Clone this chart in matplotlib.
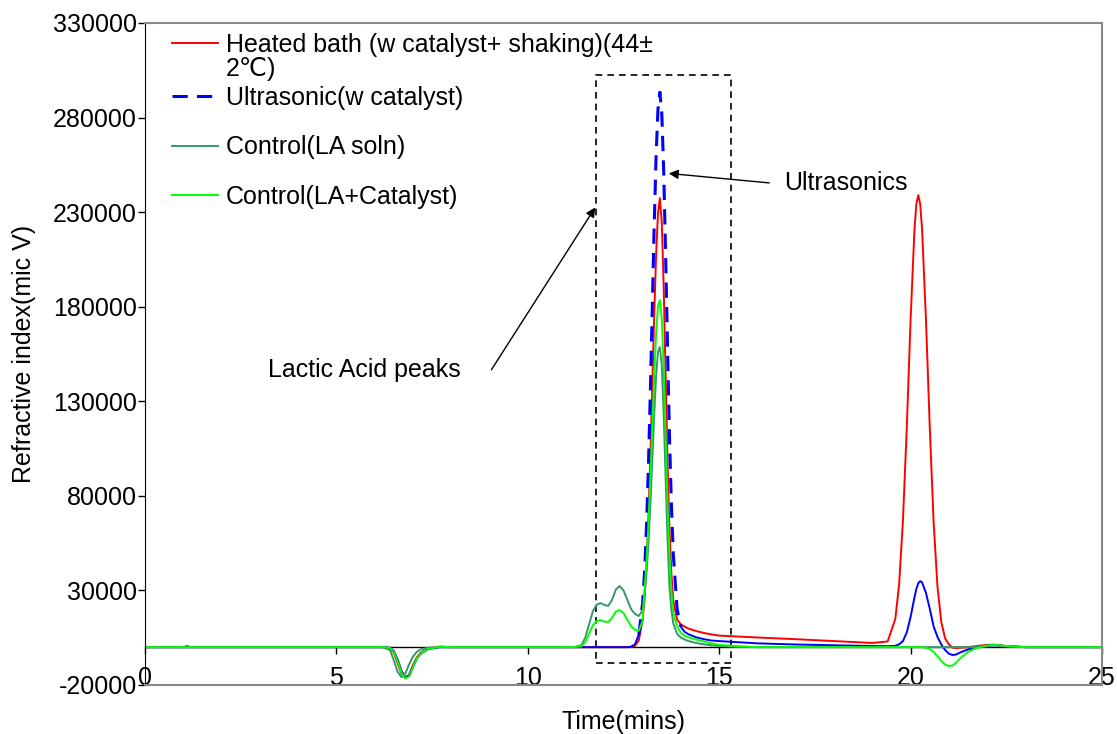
import numpy as np
import matplotlib
matplotlib.use('Agg')
import matplotlib.pyplot as plt
from matplotlib.lines import Line2D
from matplotlib.patches import Rectangle

plt.rcParams['font.family'] = ['Liberation Sans', 'DejaVu Sans']
plt.rcParams['axes.unicode_minus'] = False

# Retention time (mins)
time = [0.0, 1.0, 1.1, 1.2, 6.2, 6.4, 6.5, 6.6, 6.7, 6.8, 6.9, 7.0, 7.1, 7.2, 7.4, 7.7, 8.0,
        11.2, 11.4, 11.5, 11.6, 11.7, 11.8, 11.9, 12.0, 12.1, 12.2, 12.3, 12.4, 12.5, 12.6, 12.7, 12.8, 12.9,
        13.0, 13.05, 13.1, 13.15, 13.2, 13.25, 13.3, 13.35, 13.4, 13.45, 13.5, 13.55, 13.6, 13.65, 13.7, 13.75, 13.8, 13.9,
        14.0, 14.1, 14.2, 14.4, 14.6, 14.8, 15.0, 15.5, 16.0, 17.0, 18.0, 19.0, 19.4, 19.6, 19.7, 19.8, 19.9,
        20.0, 20.1, 20.15, 20.2, 20.25, 20.3, 20.4, 20.5, 20.6, 20.7, 20.8, 20.9, 21.0, 21.1, 21.2, 21.3, 21.5, 21.7,
        22.0, 22.2, 22.5, 23.0, 25.0]

# RI signal (mic V)
heated_bath = [0, 0, 600, 0, 0, -500, -3000, -8500, -14000, -16400, -14500, -9500, -5500, -3000, -800, 300, 0,
               0, 0, 0, 0, 0, 0, 0, 0, 0, 0, 0, 0, 0, 0, 100, 700, 3600,
               14400, 25900, 43400, 68200, 99900, 136400, 173800, 206700, 229300, 237400, 224600, 190000, 144000, 97600, 63000, 39000, 24600, 14500,
               12000, 10800, 9800, 8500, 7500, 6700, 6100, 5600, 5100, 4200, 3200, 2200, 3000, 14900, 33300, 67200, 116300,
               173500, 220600, 234300, 239000, 234300, 220600, 173500, 116300, 66400, 32300, 13400, 4700, 1400, -300, -500, -300, 0, 500,
               1200, 1300, 600, 0, 0]

ultrasonic = [0, 0, 0, 0, 0, -300, -2000, -6500, -12500, -15900, -15000, -10500, -6000, -3500, -1000, 0, 0,
              0, 0, 0, 0, 0, 0, 0, 0, 0, 0, 0, 0, 0, 0, 300, 1500, 6700,
              23400, 39700, 63400, 95300, 134300, 178000, 221500, 258900, 284300, 293400, 282300, 251400, 207400, 158300, 111800, 76000, 49300, 20000,
              10700, 8000, 6800, 5200, 4200, 3500, 3200, 2600, 2000, 1400, 1000, 600, 500, 700, 1500, 3200, 7800,
              16000, 26300, 30800, 33800, 34900, 34200, 28700, 20300, 11000, 5500, 1500, -1500, -3500, -4200, -3800, -2800, -1200, -300,
              800, 1000, 500, 0, 0]

control_la = [0, 0, 0, 0, 0, -1500, -7000, -13000, -15900, -14000, -9000, -5000, -2500, -1200, -300, 0, 0,
              0, 1000, 5000, 12000, 19000, 22500, 23300, 22300, 21800, 25000, 30500, 32300, 30000, 25000, 20000, 17500, 16500,
              19500, 28500, 39000, 54500, 74700, 98000, 122000, 143000, 156000, 158600, 148800, 122900, 89300, 57100, 32200, 20000, 12500, 7000,
              5000, 4000, 3200, 2200, 1500, 1000, 600, 200, 0, 0, 0, 0, 0, 0, 0, 0, 0,
              0, 0, 0, 0, 0, 0, 0, 0, 0, 0, 0, 0, 0, 0, 0, 0, 0, 0,
              800, 1000, 500, 0, 0]

control_la_cat = [0, 0, 0, 0, 0, -300, -2500, -7500, -13500, -16500, -15500, -10500, -6000, -3500, -1000, 200, 0,
                  0, 500, 2500, 7000, 11500, 13800, 14300, 13500, 13300, 15500, 18800, 19600, 18000, 14500, 11000, 9200, 8700,
                  14000, 30800, 45000, 64600, 88500, 115300, 142000, 165000, 180300, 183500, 173600, 146900, 111300, 75400, 48800, 29800, 18000, 11000,
                  7500, 6000, 5200, 4000, 3000, 2000, 1200, 500, 0, 0, 0, 0, 0, 0, 0, 0, 0,
                  0, 0, 0, 0, 0, 0, -300, -1000, -2500, -4800, -7300, -9200, -10000, -9700, -8000, -5800, -2500, -600,
                  800, 1200, 600, 0, 0]

labels = ['Heated bath (w catalyst+ shaking)(44±', '2℃)',
          'Ultrasonic(w catalyst)', 'Control(LA soln)', 'Control(LA+Catalyst)']
xticks = [0, 5, 10, 15, 20, 25]
yticks = list(range(-20000, 330001, 50000))

t = np.array(time)
blue = np.array(ultrasonic, dtype=float)
in_peak = (t >= 12.9) & (t <= 14.0)
blue_solid = np.where((t <= 12.9) | (t >= 14.0), blue, np.nan)
blue_dash = np.where(in_peak, blue, np.nan)

fig = plt.figure(figsize=(11.17, 7.34), dpi=100)
ax = fig.add_axes([0.1298, 0.0668, 0.8568, 0.9019])

c_red, c_blue, c_dg, c_lime = '#FF0000', '#0000FF', '#339966', '#00FF00'
ax.axhline(0, color='black', lw=1.0, zorder=1)
ax.plot(t, heated_bath, color=c_red, lw=1.4)
ax.plot(t, blue_solid, color=c_blue, lw=1.4)
ax.plot(t, blue_dash, color=c_blue, lw=2.2, dashes=(5, 3))
ax.plot(t, control_la, color=c_dg, lw=1.4)
ax.plot(t, control_la_cat, color=c_lime, lw=1.4)

ax.set_xlim(0, 25)
ax.set_ylim(-20000, 330000)
ax.set_xticks(xticks)
ax.set_yticks(yticks)
ax.tick_params(axis='x', length=0, pad=-14, labelsize=18)
ax.tick_params(axis='y', direction='out', length=5, width=1, pad=1, labelsize=18)
for side in ['top', 'right', 'bottom']:
    ax.spines[side].set_color('#888888')
    ax.spines[side].set_linewidth(1.5)
ax.spines['left'].set_color('black')

# tick marks along the zero line
ymin, ymax = ax.get_ylim()
sec = ax.secondary_xaxis((0 - ymin) / (ymax - ymin))
sec.set_xticks(xticks)
sec.tick_params(direction='out', length=5, width=1, labelbottom=False, labeltop=False)
for s in sec.spines.values():
    s.set_visible(False)

ax.set_xlabel('Time(mins)', fontsize=18, labelpad=15)
ax.set_ylabel('Refractive index(mic V)', fontsize=18, labelpad=12)

# dashed box round the lactic acid peaks
ax.add_patch(Rectangle((11.78, -8500), 15.31 - 11.78, 302400 + 8500, fill=False,
                       edgecolor='black', lw=1.2, linestyle=(0, (4, 3))))

ax.text(3.21, 146400, 'Lactic Acid peaks', fontsize=18, va='center', ha='left')
ax.annotate('', xy=(11.8, 233700), xytext=(9.01, 145400),
            arrowprops=dict(arrowstyle='-|>', color='black', lw=1, mutation_scale=14))
ax.text(16.69, 245300, 'Ultrasonics', fontsize=18, va='center', ha='left')
ax.annotate('', xy=(13.61, 250600), xytext=(16.38, 245300),
            arrowprops=dict(arrowstyle='-|>', color='black', lw=1, mutation_scale=14))

leg_a = ax.legend([Line2D([], [], color=c_red, lw=1.4), Line2D([], [], color='none')],
                  labels[:2], loc='upper left', bbox_to_anchor=(0.028, 0.985),
                  frameon=False, fontsize=18, borderpad=0, borderaxespad=0,
                  handlelength=1.84, handletextpad=0.32, labelspacing=0.01)
ax.add_artist(leg_a)
ax.legend([Line2D([], [], color=c_blue, lw=2.2, dashes=(5, 3)),
           Line2D([], [], color=c_dg, lw=1.4),
           Line2D([], [], color=c_lime, lw=1.4)],
          labels[2:], loc='upper left', bbox_to_anchor=(0.028, 0.905),
          frameon=False, fontsize=18, borderpad=0, borderaxespad=0,
          handlelength=1.84, handletextpad=0.32, labelspacing=1.02)

fig.savefig('out.png', dpi=100)
